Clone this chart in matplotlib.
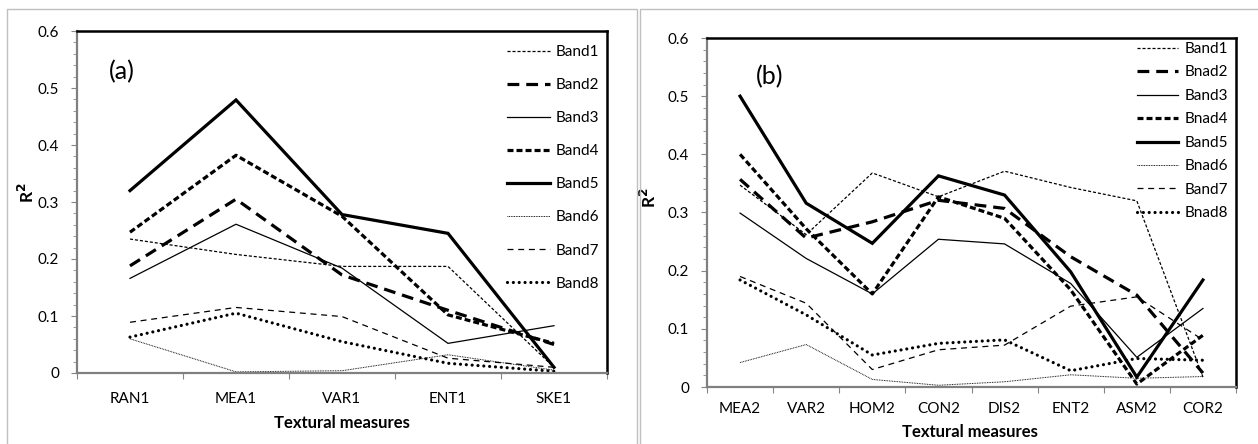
import matplotlib
matplotlib.use("Agg")
import numpy as np
import matplotlib.pyplot as plt
from matplotlib.patches import Rectangle

plt.rcParams['font.family'] = ['Lato', 'DejaVu Sans']
plt.rcParams['lines.scale_dashes'] = False

# --- data, panel (a) ---
cats_a = ["RAN1", "MEA1", "VAR1", "ENT1", "SKE1"]
labels_a = ["Band1", "Band2", "Band3", "Band4", "Band5", "Band6", "Band7", "Band8"]
a_band1 = [0.235, 0.208, 0.187, 0.187, 0.010]
a_band2 = [0.188, 0.305, 0.172, 0.110, 0.050]
a_band3 = [0.166, 0.261, 0.184, 0.052, 0.083]
a_band4 = [0.247, 0.382, 0.275, 0.102, 0.052]
a_band5 = [0.320, 0.479, 0.278, 0.245, 0.010]
a_band6 = [0.060, 0.002, 0.004, 0.032, 0.005]
a_band7 = [0.089, 0.115, 0.099, 0.026, 0.010]
a_band8 = [0.063, 0.105, 0.055, 0.017, 0.003]

# --- data, panel (b) ---
cats_b = ["MEA2", "VAR2", "HOM2", "CON2", "DIS2", "ENT2", "ASM2", "COR2"]
labels_b = ["Band1", "Bnad2", "Band3", "Bnad4", "Band5", "Bnad6", "Band7", "Bnad8"]
b_band1 = [0.347, 0.262, 0.368, 0.327, 0.371, 0.343, 0.320, 0.017]
b_band2 = [0.357, 0.256, 0.284, 0.321, 0.307, 0.224, 0.158, 0.024]
b_band3 = [0.299, 0.221, 0.160, 0.254, 0.246, 0.178, 0.051, 0.135]
b_band4 = [0.400, 0.272, 0.160, 0.327, 0.290, 0.167, 0.005, 0.089]
b_band5 = [0.500, 0.316, 0.247, 0.363, 0.330, 0.198, 0.017, 0.184]
b_band6 = [0.042, 0.073, 0.013, 0.003, 0.009, 0.021, 0.015, 0.018]
b_band7 = [0.190, 0.144, 0.030, 0.064, 0.072, 0.139, 0.155, 0.081]
b_band8 = [0.184, 0.124, 0.055, 0.075, 0.081, 0.028, 0.049, 0.046]

ytick_vals = [0, 0.1, 0.2, 0.3, 0.4, 0.5, 0.6]
ytick_labels = ["0", "0.1", "0.2", "0.3", "0.4", "0.5", "0.6"]

# line styles for the 8 bands (same order in both panels)
styles = [
    dict(lw=0.9, dashes=(2.2, 1.4)),
    dict(lw=2.3, dashes=(8.5, 5.0)),
    dict(lw=0.9),
    dict(lw=2.3, dashes=(4.3, 2.2)),
    dict(lw=2.3),
    dict(lw=0.7, dashes=(0.6, 0.6)),
    dict(lw=0.9, dashes=(4.3, 3.4)),
    dict(lw=2.3, dashes=(0.01, 4.2), dash_capstyle='round'),
]

fig = plt.figure(figsize=(12.58, 4.44), dpi=100)

# outer chart frames
fig.patches.append(Rectangle((7 / 1258, -0.01), 630 / 1258, 1 - 9 / 444 + 0.01,
                             transform=fig.transFigure, fill=False, ec='#bfbfbf', lw=1))
fig.patches.append(Rectangle((640 / 1258, -0.01), 630 / 1258, 1 - 9 / 444 + 0.01,
                             transform=fig.transFigure, fill=False, ec='#bfbfbf', lw=1))

ax1 = fig.add_axes([77 / 1258, 1 - 373 / 444, 530 / 1258, 342 / 444])
ax2 = fig.add_axes([707 / 1258, 1 - 387 / 444, 529 / 1258, 349 / 444])


def draw(ax, cats, series, labels, tag, tag_xy, xlab_xy, ylab_xy, xpad, leg_anchor, leg_spacing, hlen):
    x = np.arange(len(cats))
    for s, lab, st in zip(series, labels, styles):
        ax.plot(x, s, color='black', label=lab, solid_joinstyle='miter', **st)
    ax.set_xlim(-0.5, len(cats) - 0.5)
    ax.set_ylim(0, 0.6)
    ax.set_yticks(ytick_vals)
    ax.set_yticklabels(ytick_labels)
    ax.set_yticks(np.arange(0, 0.601, 0.02), minor=True)
    ax.set_xticks(np.arange(-0.5, len(cats), 1.0))
    ax.set_xticklabels([])
    ax.set_xticks(x, minor=True)
    ax.set_xticklabels(cats, minor=True)
    ax.tick_params(axis='y', which='major', direction='out', length=4, color='#868686',
                   labelsize=11, pad=9)
    ax.tick_params(axis='y', which='minor', direction='out', length=3, color='#868686')
    ax.tick_params(axis='x', which='major', direction='out', length=4, color='#868686')
    ax.tick_params(axis='x', which='minor', length=0, labelsize=11, pad=xpad)
    for side in ['top', 'right']:
        ax.spines[side].set_color('black')
        ax.spines[side].set_linewidth(1.8)
    for side in ['left', 'bottom']:
        ax.spines[side].set_color('#808080')
        ax.spines[side].set_linewidth(1.6)
    ax.text(tag_xy[0], tag_xy[1], tag, transform=ax.transAxes, fontsize=18,
            ha='center', va='center')
    ax.text(xlab_xy[0], xlab_xy[1], "Textural measures", transform=ax.transAxes,
            fontsize=12, fontweight='bold', ha='center', va='center')
    ax.text(ylab_xy[0], ylab_xy[1], "R$^\\mathbf{2}$", transform=ax.transAxes,
            fontsize=12.5, fontweight='bold', ha='center', va='center', rotation=90)
    ax.legend(loc='upper left', bbox_to_anchor=leg_anchor, bbox_transform=fig.transFigure,
              frameon=False, fontsize=11, borderpad=0, borderaxespad=0,
              labelspacing=leg_spacing, handlelength=hlen, handletextpad=0.4)


draw(ax1, cats_a,
     [a_band1, a_band2, a_band3, a_band4, a_band5, a_band6, a_band7, a_band8],
     labels_a, "(a)", (0.085, 0.880), (0.5, -0.146), (-0.094, 0.526), 14,
     (507 / 1258, 1 - 45 / 444), 1.25, 2.8)
draw(ax2, cats_b,
     [b_band1, b_band2, b_band3, b_band4, b_band5, b_band6, b_band7, b_band8],
     labels_b, "(b)", (0.119, 0.888), (0.497, -0.129), (-0.110, 0.544), 11,
     (1137 / 1258, 1 - 42 / 444), 0.62, 2.7)

fig.savefig("out.png", dpi=100)
